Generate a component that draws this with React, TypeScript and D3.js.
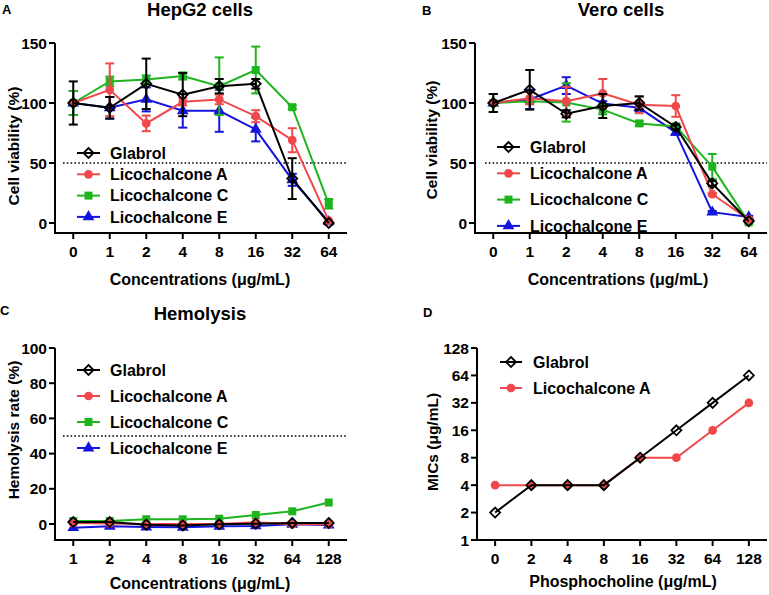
import React from "react";
import * as d3 from "d3";

// ---------- data ----------
const SERIES_NAMES = ["Glabrol", "Licochalcone A", "Licochalcone C", "Licochalcone E"];
const SERIES_COLORS = ["#000000", "#F0484A", "#1EB41E", "#1414DC"];
const SERIES_SYMBOLS = ["diamond", "circle", "square", "triangle"];

const VIABILITY_CONC = ["0", "1", "2", "4", "8", "16", "32", "64"];
const HEMO_CONC = ["1", "2", "4", "8", "16", "32", "64", "128"];
const PC_CONC = ["0", "2", "4", "8", "16", "32", "64", "128"];

const VIABILITY_TICKS = [0, 50, 100, 150];
const HEMO_TICKS = [0, 20, 40, 60, 80, 100];
const MIC_TICKS = [1, 2, 4, 8, 16, 32, 64, 128];

// HepG2 cell viability (%) and SD
const HEPG2_GLABROL = [100, 96, 116, 107, 114, 116, 37, 0];
const HEPG2_GLABROL_SD = [18, 9, 21, 18, 6, 4, 17, 0];
const HEPG2_LICO_A = [100, 111, 83, 101, 103, 89, 69, 2];
const HEPG2_LICO_A_SD = [0, 22, 6.5, 3, 4, 5, 10, 0];
const HEPG2_LICO_C = [100, 118, 119.5, 122.5, 114, 127.5, 96.5, 16];
const HEPG2_LICO_C_SD = [10, 4, 3.5, 3, 24, 19.5, 1.5, 4];
const HEPG2_LICO_E = [100, 96, 103, 93.5, 93.5, 78, 36, 1];
const HEPG2_LICO_E_SD = [10, 9, 10, 14, 17.5, 10, 5, 0];

// Vero cell viability (%) and SD
const VERO_GLABROL = [100, 111, 91, 97.5, 100, 80, 33, 1.5];
const VERO_GLABROL_SD = [7.5, 16.5, 3, 10, 5.5, 2, 2, 0];
const VERO_LICO_A = [100, 104, 101.5, 108, 98.5, 97.5, 24, 3];
const VERO_LICO_A_SD = [0, 5, 12, 12, 7, 9, 1, 1];
const VERO_LICO_C = [100, 101.5, 100.5, 94.5, 83, 80.5, 47, 0.5];
const VERO_LICO_C_SD = [7.5, 2, 16, 4, 2, 2, 10.5, 1];
const VERO_LICO_E = [100, 103, 114.5, 99.5, 96, 75.5, 9, 5];
const VERO_LICO_E_SD = [0, 8, 7, 2, 3, 2, 1, 1];

// Hemolysis rate (%)
const HEMO_GLABROL = [1.1, 1.1, -0.4, -0.8, -0.2, 0.2, 0.6, 0.6];
const HEMO_LICO_A = [0.5, 0.3, 0, 0, 0, 1, -0.2, -0.2];
const HEMO_LICO_C = [1.7, 1.7, 2.7, 2.7, 3.0, 5.1, 7.2, 12.2];
const HEMO_LICO_E = [-2.1, -1.3, -1.7, -1.9, -1.3, -1.1, -0.2, -0.6];

// MICs (µg/mL) vs phosphocholine
const MIC_GLABROL = [2, 4, 4, 4, 8, 16, 32, 64];
const MIC_LICO_A = [4, 4, 4, 4, 8, 8, 16, 32];

const CONC_LABEL = "Concentrations (\u03bcg/mL)";
const MIC_LABEL = "MICs (\u03bcg/mL)";
const PC_LABEL = "Phosphocholine (\u03bcg/mL)";

// ---------- helpers ----------
const FONT = "'Liberation Sans', Arial, Helvetica, sans-serif";

function symbolPath(kind: string): string {
  if (kind === "diamond") {
    const r = 5;
    return `M0,${-r}L${r},0L0,${r}L${-r},0Z`;
  }
  if (kind === "circle") return d3.symbol().type(d3.symbolCircle).size(60)() as string;
  if (kind === "square") return d3.symbol().type(d3.symbolSquare).size(64)() as string;
  return d3.symbol().type(d3.symbolTriangle).size(60)() as string;
}

function Marker({ kind, color, x, y }: { kind: string; color: string; x: number; y: number }) {
  const d = symbolPath(kind);
  if (kind === "diamond") {
    return <path d={d} transform={`translate(${x},${y})`} fill="none" stroke={color} strokeWidth={1.8} />;
  }
  return <path d={d} transform={`translate(${x},${y})`} fill={color} stroke="none" />;
}

type Series = { idx: number; values: number[]; sd?: number[] };

type PanelProps = {
  letter: string;
  letterX: number;
  letterY: number;
  title?: string;
  titleX?: number;
  titleY?: number;
  left: number;
  right: number;
  top: number;
  zeroY: number;
  bottom: number;
  log?: boolean;
  yDomain: [number, number];
  yTicks: number[];
  yLabel: string;
  yLabelX: number;
  yLabelY: number;
  xLabel: string;
  xLabelX: number;
  xLabelY: number;
  categories: string[];
  series: Series[];
  refLine?: { value: number; x0: number; x1: number };
  legend: { x0: number; x1: number; tx: number; y0: number; dy: number; items: number[] };
};

function Panel(p: PanelProps) {
  const x = d3.scalePoint<string>().domain(p.categories).range([p.left, p.right]).padding(0.5);
  const y = p.log
    ? d3.scaleLog().base(2).domain(p.yDomain).range([p.zeroY, p.top])
    : d3.scaleLinear().domain(p.yDomain).range([p.zeroY, p.top]);
  const line = d3
    .line<number>()
    .x((_, i) => x(p.categories[i]) as number)
    .y((v) => y(v));
  const drawOrder = [...p.series].reverse();
  return (
    <g>
      <text x={p.letterX} y={p.letterY} fontFamily={FONT} fontWeight="bold" fontSize={13}>
        {p.letter}
      </text>
      {p.title && (
        <text x={p.titleX} y={p.titleY} textAnchor="middle" fontFamily={FONT} fontWeight="bold" fontSize={18.5}>
          {p.title}
        </text>
      )}
      {/* axes */}
      <line x1={p.left} x2={p.left} y1={y(p.yDomain[1])} y2={p.bottom} stroke="#000" strokeWidth={2} />
      <line x1={p.left - 1} x2={p.right} y1={p.bottom} y2={p.bottom} stroke="#000" strokeWidth={2} />
      {p.yTicks.map((t) => (
        <g key={"yt" + t}>
          <line x1={p.left - 6} x2={p.left} y1={y(t)} y2={y(t)} stroke="#000" strokeWidth={2} />
          <text
            x={p.left - 8}
            y={y(t)}
            dy="0.36em"
            textAnchor="end"
            fontFamily={FONT}
            fontWeight="bold"
            fontSize={15.5}
          >
            {t}
          </text>
        </g>
      ))}
      {p.categories.map((c) => (
        <g key={"xt" + c}>
          <line x1={x(c)} x2={x(c)} y1={p.bottom} y2={p.bottom + 6} stroke="#000" strokeWidth={2} />
          <text
            x={x(c)}
            y={p.bottom + 24}
            textAnchor="middle"
            fontFamily={FONT}
            fontWeight="bold"
            fontSize={15.5}
          >
            {c}
          </text>
        </g>
      ))}
      <text
        transform={`translate(${p.yLabelX},${p.yLabelY}) rotate(-90)`}
        textAnchor="middle"
        fontFamily={FONT}
        fontWeight="bold"
        fontSize={15.5}
      >
        {p.yLabel}
      </text>
      <text x={p.xLabelX} y={p.xLabelY} textAnchor="middle" fontFamily={FONT} fontWeight="bold" fontSize={16}>
        {p.xLabel}
      </text>
      {p.refLine && (
        <line
          x1={p.refLine.x0}
          x2={p.refLine.x1}
          y1={y(p.refLine.value)}
          y2={y(p.refLine.value)}
          stroke="#000"
          strokeWidth={1.6}
          strokeDasharray="1.6,2.2"
        />
      )}
      {/* series */}
      {drawOrder.map((s) => {
        const color = SERIES_COLORS[s.idx];
        return (
          <g key={"s" + s.idx}>
            {s.sd &&
              s.values.map((v, i) => {
                const e = s.sd![i];
                if (!e) return null;
                const cx = x(p.categories[i]) as number;
                const yt = y(v + e);
                const yb = y(v - e);
                return (
                  <g key={"e" + i} stroke={color} strokeWidth={2}>
                    <line x1={cx} x2={cx} y1={yt} y2={yb} />
                    <line x1={cx - 4.5} x2={cx + 4.5} y1={yt} y2={yt} />
                    <line x1={cx - 4.5} x2={cx + 4.5} y1={yb} y2={yb} />
                  </g>
                );
              })}
            <path d={line(s.values) as string} fill="none" stroke={color} strokeWidth={2} />
            {s.values.map((v, i) => (
              <Marker
                key={"m" + i}
                kind={SERIES_SYMBOLS[s.idx]}
                color={color}
                x={x(p.categories[i]) as number}
                y={y(v)}
              />
            ))}
          </g>
        );
      })}
      {/* legend */}
      {p.legend.items.map((idx, k) => {
        const ly = p.legend.y0 + k * p.legend.dy;
        const color = SERIES_COLORS[idx];
        return (
          <g key={"l" + idx}>
            <line x1={p.legend.x0} x2={p.legend.x1} y1={ly} y2={ly} stroke={color} strokeWidth={2} />
            <Marker kind={SERIES_SYMBOLS[idx]} color={color} x={(p.legend.x0 + p.legend.x1) / 2} y={ly} />
            <text
              x={p.legend.tx}
              y={ly}
              dy="0.36em"
              fontFamily={FONT}
              fontWeight="bold"
              fontSize={16}
            >
              {SERIES_NAMES[idx]}
            </text>
          </g>
        );
      })}
    </g>
  );
}

export default function App() {
  return (
    <svg
      width={769}
      height={595}
      viewBox="0 0 769 595"
      style={{ position: "absolute", left: 0, top: 0, background: "#fff" }}
    >
      <rect x={0} y={0} width={769} height={595} fill="#fff" />
      <Panel
        letter="A"
        letterX={2}
        letterY={14}
        title="HepG2 cells"
        titleX={200}
        titleY={16}
        left={55}
        right={347}
        top={43}
        zeroY={223}
        bottom={233}
        yDomain={[0, 150]}
        yTicks={VIABILITY_TICKS}
        yLabel="Cell viability (%)"
        yLabelX={19}
        yLabelY={146}
        xLabel={CONC_LABEL}
        xLabelX={200}
        xLabelY={285}
        categories={VIABILITY_CONC}
        series={[
          { idx: 0, values: HEPG2_GLABROL, sd: HEPG2_GLABROL_SD },
          { idx: 1, values: HEPG2_LICO_A, sd: HEPG2_LICO_A_SD },
          { idx: 2, values: HEPG2_LICO_C, sd: HEPG2_LICO_C_SD },
          { idx: 3, values: HEPG2_LICO_E, sd: HEPG2_LICO_E_SD },
        ]}
        refLine={{ value: 50, x0: 63, x1: 347 }}
        legend={{ x0: 77, x1: 100, tx: 110, y0: 153, dy: 21.3, items: [0, 1, 2, 3] }}
      />
      <Panel
        letter="B"
        letterX={422}
        letterY={15}
        title="Vero cells"
        titleX={621}
        titleY={16}
        left={475}
        right={767}
        top={43}
        zeroY={223}
        bottom={233}
        yDomain={[0, 150]}
        yTicks={VIABILITY_TICKS}
        yLabel="Cell viability (%)"
        yLabelX={437}
        yLabelY={140}
        xLabel={CONC_LABEL}
        xLabelX={618}
        xLabelY={285}
        categories={VIABILITY_CONC}
        series={[
          { idx: 0, values: VERO_GLABROL, sd: VERO_GLABROL_SD },
          { idx: 1, values: VERO_LICO_A, sd: VERO_LICO_A_SD },
          { idx: 2, values: VERO_LICO_C, sd: VERO_LICO_C_SD },
          { idx: 3, values: VERO_LICO_E, sd: VERO_LICO_E_SD },
        ]}
        refLine={{ value: 50, x0: 485, x1: 767 }}
        legend={{ x0: 497, x1: 520, tx: 530, y0: 147, dy: 26.3, items: [0, 1, 2, 3] }}
      />
      <Panel
        letter="C"
        letterX={0}
        letterY={315}
        title="Hemolysis"
        titleX={200}
        titleY={320}
        left={55}
        right={347}
        top={348}
        zeroY={524}
        bottom={540}
        yDomain={[0, 100]}
        yTicks={HEMO_TICKS}
        yLabel="Hemolysis rate (%)"
        yLabelX={19}
        yLabelY={430}
        xLabel={CONC_LABEL}
        xLabelX={200}
        xLabelY={589}
        categories={HEMO_CONC}
        series={[
          { idx: 0, values: HEMO_GLABROL },
          { idx: 1, values: HEMO_LICO_A },
          { idx: 2, values: HEMO_LICO_C },
          { idx: 3, values: HEMO_LICO_E },
        ]}
        refLine={{ value: 50, x0: 63, x1: 347 }}
        legend={{ x0: 77, x1: 100, tx: 110, y0: 370, dy: 26, items: [0, 1, 2, 3] }}
      />
      <Panel
        letter="D"
        letterX={423}
        letterY={317}
        left={477}
        right={767}
        top={348}
        zeroY={540}
        bottom={540}
        log
        yDomain={[1, 128]}
        yTicks={MIC_TICKS}
        yLabel={MIC_LABEL}
        yLabelX={438}
        yLabelY={442}
        xLabel={PC_LABEL}
        xLabelX={623}
        xLabelY={587}
        categories={PC_CONC}
        series={[
          { idx: 0, values: MIC_GLABROL },
          { idx: 1, values: MIC_LICO_A },
        ]}
        legend={{ x0: 500, x1: 522, tx: 533, y0: 362, dy: 26, items: [0, 1] }}
      />
    </svg>
  );
}
